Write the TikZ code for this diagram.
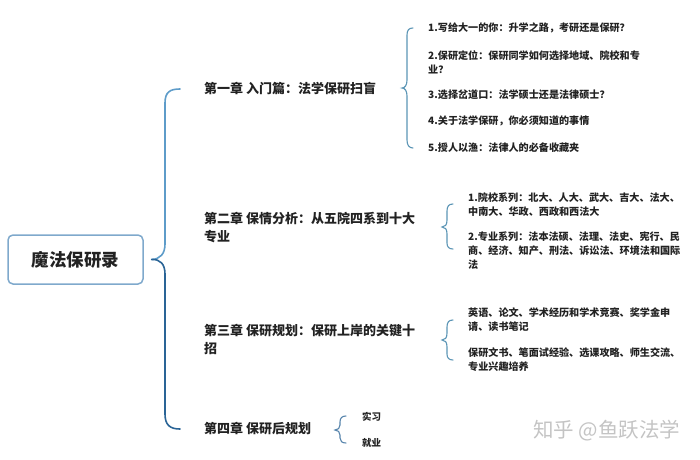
\documentclass[tikz,border=0pt]{standalone}
\usepackage{fontspec}
\usetikzlibrary{calc}
\setmainfont{Noto Sans CJK SC}
\newcommand{\zhcolon}{\char"FF1A\relax}
\newcommand{\zhcomma}{\char"FF0C\relax}
\newcommand{\zhquery}{\char"FF1F\relax}
\tikzset{
  rootbox/.style={draw=boxblue,line width=1.5pt,rounded corners=5pt,inner sep=0pt,minimum width=135,minimum height=49,font=\fontsize{17.5}{20}\selectfont\bfseries,text=inkblack},
  chapter/.style={anchor=west,inner sep=0pt,align=left,font=\fontsize{13}{18}\selectfont\bfseries,text=inkblack},
  leaf/.style={anchor=west,inner sep=0pt,align=left,font=\fontsize{10.1}{14}\selectfont\bfseries,text=inkblack},
  bigbrace/.style={line width=1.6pt,line cap=round},
  smallbrace/.style={line width=1.1pt,line cap=round,draw=midblue},
}
\definecolor{boxblue}{HTML}{7FA9CC}
\definecolor{lightblue}{HTML}{5E9CC9}
\definecolor{darkblue}{HTML}{2A6496}
\definecolor{midblue}{HTML}{5B95B5}
\definecolor{inkblack}{HTML}{222222}
\definecolor{markgray}{HTML}{C4C4C4}
\begin{document}
\begin{tikzpicture}[x=1pt,y=-1pt]
  \useasboundingbox (0,0) rectangle (700,459);
  \node[rootbox] (root) at (75.5,259.5) {魔法保研录};

  \node[chapter] (c1) at (204,89) {第一章 入门篇\zhcolon 法学保研扫盲};
  \node[chapter] (c2) at (204,228) {第二章 保情分析\zhcolon 从五院四系到十大\\专业};
  \node[chapter] (c3) at (204,339.5) {第三章 保研规划\zhcolon 保研上岸的关键十\\招};
  \node[chapter] (c4) at (204,429) {第四章 保研后规划};

  \node[leaf] (a1) at (428,28) {1.写给大一的你\zhcolon 升学之路\zhcomma 考研还是保研\zhquery};
  \node[leaf] (a2) at (428,62) {2.保研定位\zhcolon 保研同学如何选择地域、院校和专\\业\zhquery};
  \node[leaf] (a3) at (428,95) {3.选择岔道口\zhcolon 法学硕士还是法律硕士\zhquery};
  \node[leaf] (a4) at (428,121) {4.关于法学保研\zhcomma 你必须知道的事情};
  \node[leaf] (a5) at (428,148) {5.授人以渔\zhcolon 法律人的必备收藏夹};

  \node[leaf] (b1) at (468,205) {1.院校系列\zhcolon 北大、人大、武大、吉大、法大、\\中南大、华政、西政和西法大};
  \node[leaf] (b2) at (468,251) {2.专业系列\zhcolon 法本法硕、法理、法史、宪行、民\\商、经济、知产、刑法、诉讼法、环境法和国际\\法};

  \node[leaf] (d1) at (468,320) {英语、论文、学术经历和学术竞赛、奖学金申\\请、读书笔记};
  \node[leaf] (d2) at (468,360) {保研文书、笔面试经验、选课攻略、师生交流、\\专业兴趣培养};

  \node[leaf,font=\fontsize{9.5}{14}\selectfont\bfseries] (e1) at (362,417) {实习};
  \node[leaf,font=\fontsize{9.5}{14}\selectfont\bfseries] (e2) at (362,443) {就业};

  \node[anchor=west,inner sep=0pt,text=markgray,font=\fontsize{20.5}{22}\selectfont] (mark) at (533,431) {知乎 @鱼跃法学};

  % main brace, two tones
  \coordinate (tip) at ($(root.east)+(8,0)$);
  \coordinate (top) at ($(c1.west)+(-24,0)$);
  \coordinate (bot) at ($(c4.west)+(-24,0)$);
  \draw[bigbrace,draw=lightblue] (tip) .. controls (160,259) and (165,254) .. (165,244) -- (165,103) .. controls (165,92) and (170,89) .. (top);
  \draw[bigbrace,draw=darkblue] (tip) .. controls (160,259) and (165,264) .. (165,274) -- (165,414) .. controls (165,425) and (170,429) .. (bot);

  % small braces
  \coordinate (t1) at ($(a1.west)+(-15,0)$);
  \coordinate (u1) at ($(a5.west)+(-15,0)$);
  \coordinate (m1) at (402,88);
  \draw[smallbrace] (t1) .. controls (409,28) and (407,30) .. (407,35) -- (407,80) .. controls (407,85) and (405,88) .. (m1) .. controls (405,88) and (407,91) .. (407,96) -- (407,140) .. controls (407,145) and (409,148) .. (u1);

  \coordinate (t2) at (453,204);
  \coordinate (u2) at (453,249);
  \coordinate (m2) at (442,227);
  \draw[smallbrace] (t2) .. controls (449,204) and (447,206) .. (447,211) -- (447,220) .. controls (447,225) and (445,227) .. (m2) .. controls (445,227) and (447,229) .. (447,234) -- (447,243) .. controls (447,247) and (449,249) .. (u2);

  \coordinate (t3) at (453,320);
  \coordinate (u3) at (453,360);
  \coordinate (m3) at (442,340);
  \draw[smallbrace] (t3) .. controls (449,320) and (447,322) .. (447,327) -- (447,333) .. controls (447,338) and (445,340) .. (m3) .. controls (445,340) and (447,342) .. (447,347) -- (447,354) .. controls (447,358) and (449,360) .. (u3);

  \coordinate (t4) at (346,416);
  \coordinate (u4) at (346,443);
  \coordinate (m4) at (335,430);
  \draw[smallbrace,draw=darkblue!80] (t4) .. controls (342,416) and (340,418) .. (340,422) -- (340,425) .. controls (340,428) and (338,430) .. (m4) .. controls (338,430) and (340,432) .. (340,435) -- (340,438) .. controls (340,441) and (342,443) .. (u4);
\end{tikzpicture}
\end{document}
